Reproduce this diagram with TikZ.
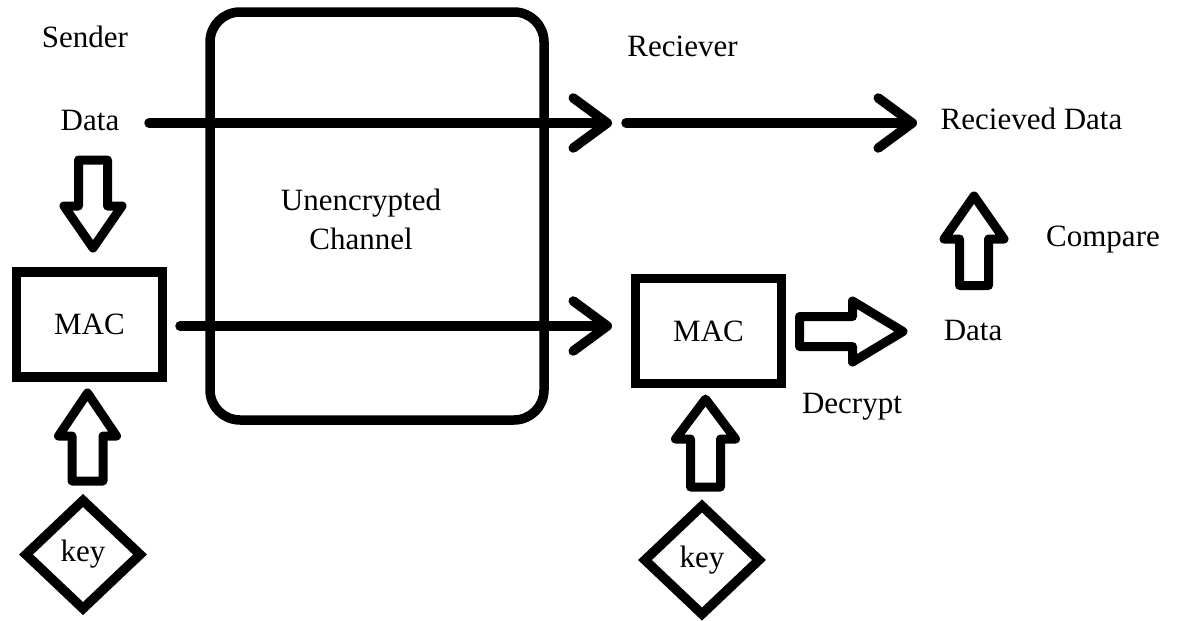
\documentclass[tikz,border=0pt]{standalone}
\usepackage{fontspec}
\setmainfont{Liberation Serif}
\usetikzlibrary{arrows.meta,shapes.geometric,calc}
\newcommand\vblk[5]{%
\draw[blk] let \p1=(#1), \p2=(#2), \n1={sign(\y2-\y1)} in
 (\x1-#3, \y1) -- (\x1-#3, \y2-\n1*#5) -- (\x1-#4,\y2-\n1*#5) -- (\x1,\y2) -- (\x1+#4,\y2-\n1*#5) -- (\x1+#3,\y2-\n1*#5) -- (\x1+#3,\y1) -- cycle;}
\newcommand\hblk[5]{%
\draw[blk] let \p1=(#1), \p2=(#2), \n1={sign(\x2-\x1)} in
 (\x1, \y1-#3) -- (\x2-\n1*#5, \y1-#3) -- (\x2-\n1*#5, \y1-#4) -- (\x2,\y1) -- (\x2-\n1*#5, \y1+#4) -- (\x2-\n1*#5, \y1+#3) -- (\x1, \y1+#3) -- cycle;}
\tikzset{
  txt/.style={font=\fontsize{31}{37}\selectfont, inner sep=0pt},
  box/.style={draw, line width=9.5pt, minimum width=146pt, minimum height=105pt, font=\fontsize{31}{37}\selectfont},
  keyd/.style={draw, diamond, line width=9.5pt, minimum width=118pt, minimum height=112pt, inner sep=0pt, font=\fontsize{31}{37}\selectfont},
  chan/.style={draw, line width=9.5pt, rounded corners=30pt, minimum width=334pt, minimum height=408pt},
  flow/.style={line width=9.5pt, line cap=round, -{Straight Barb[length=34pt,width=50pt,round]}},
  blk/.style={line width=9pt, line join=round},
}
\begin{document}
\begin{tikzpicture}[x=1pt,y=-1pt]
\useasboundingbox (0,0) rectangle (1178,621);
% channel
\node[chan] (channel) at (377,216) {};
\node[txt, align=center] (chtext) at (361,219) {Unencrypted\\[2pt]Channel};
% texts
\node[txt] (sender) at (85,37) {Sender};
\node[txt] (data) at (90,121) {Data};
\node[txt] (recv) at (682.5,46) {Reciever};
\node[txt] (recvdata) at (1031.5,119) {Recieved Data};
\node[txt] (data2) at (973,330) {Data};
\node[txt] (decrypt) at (852,407) {Decrypt};
\node[txt] (compare) at (1103,240) {Compare};
% boxes
\node[box] (mac1) at (89.5,324.5) {MAC};
\node[box] (mac2) at (708.5,331) {MAC};
\node[keyd] (key1) at (83,554.5) {key};
\node[keyd] (key2) at (702,560) {key};
% line arrows
\coordinate (s1) at (149,123);
\coordinate (t1) at (612,123);
\coordinate (s2) at (626,123);
\coordinate (t2) at (917,123);
\draw[flow] (s1) -- (t1);
\draw[flow] (s2) -- (t2);
\coordinate (s3) at (180,326);
\coordinate (t3) at (612,326);
\draw[flow] (s3) -- (t3);
% block arrows
\coordinate (b1s) at (93,160);
\coordinate (b1t) at (93,248);
\vblk{b1s}{b1t}{14.5}{29}{42}
\coordinate (b2s) at (87.5,481);
\coordinate (b2t) at (87.5,393);
\vblk{b2s}{b2t}{15.5}{29}{43}
\coordinate (b3s) at (705.5,487);
\coordinate (b3t) at (705.5,399);
\vblk{b3s}{b3t}{15}{30}{40}
\coordinate (b4s) at (974,285.5);
\coordinate (b4t) at (974,196);
\vblk{b4s}{b4t}{14.5}{30}{43}
\coordinate (b5s) at (799.5,331.5);
\coordinate (b5t) at (903,331.5);
\hblk{b5s}{b5t}{15}{30.5}{50.5}
\end{tikzpicture}
\end{document}
